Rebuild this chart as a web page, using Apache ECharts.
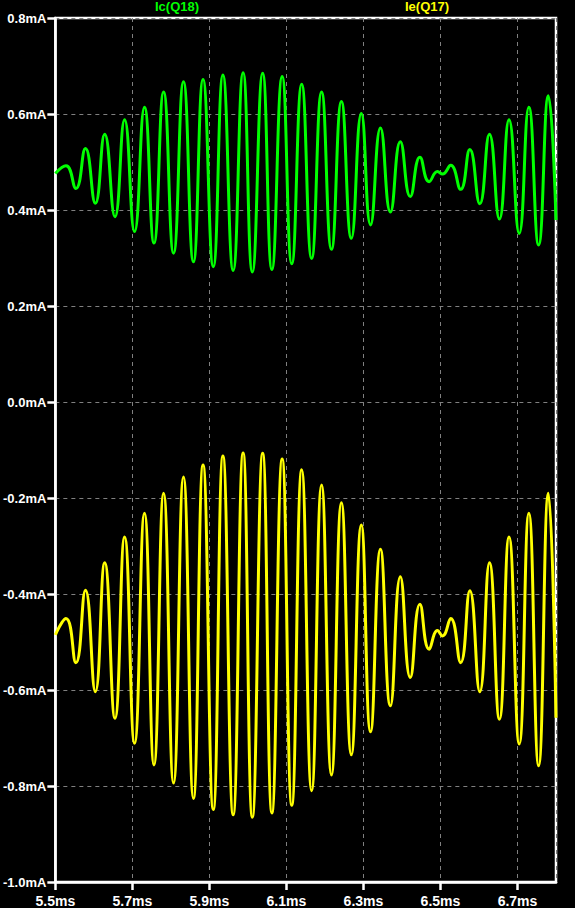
<!DOCTYPE html>
<html>
<head>
<meta charset="utf-8">
<script src="https://cdn.jsdelivr.net/npm/echarts@6/dist/echarts.min.js"></script>
<style>
html,body{margin:0;padding:0;background:#000;}
#c{width:575px;height:908px;}
</style>
</head>
<body>
<div id="c"></div>
<script>
// Time (ms) of each extremum (peaks and troughs alternate)
const timesMs = [5.5, 5.5276, 5.5534, 5.5782, 5.6039, 5.6282, 5.6548, 5.6798, 5.7056, 5.7314,
  5.7561, 5.7811, 5.8069, 5.8327, 5.8585, 5.8835, 5.9101, 5.9351, 5.9617, 5.9875,
  6.0115, 6.0383, 6.0623, 6.0889, 6.1139, 6.1397, 6.1655, 6.1913, 6.2170, 6.2428,
  6.2686, 6.2944, 6.3184, 6.3442, 6.3700, 6.3958, 6.4216, 6.4466, 6.4706, 6.4923,
  6.5052, 6.5266, 6.5524, 6.5763, 6.6021, 6.6272, 6.6530, 6.6780, 6.7045, 6.7295,
  6.7548, 6.7801, 6.8];
// Ic(Q18) in mA
const icQ18 = [0.476, 0.492, 0.445, 0.528, 0.414, 0.558, 0.386, 0.588, 0.355, 0.614,
  0.331, 0.646, 0.310, 0.667, 0.292, 0.672, 0.282, 0.681, 0.274, 0.686,
  0.271, 0.685, 0.276, 0.678, 0.288, 0.662, 0.299, 0.646, 0.318, 0.626,
  0.341, 0.601, 0.369, 0.571, 0.396, 0.542, 0.428, 0.510, 0.459, 0.480,
  0.475, 0.493, 0.443, 0.526, 0.413, 0.558, 0.381, 0.588, 0.351, 0.614,
  0.327, 0.638, 0.379];
// Ie(Q17) in mA
const ieQ17 = [-0.485, -0.451, -0.543, -0.392, -0.6035, -0.335, -0.659, -0.281, -0.711, -0.232,
  -0.756, -0.190, -0.794, -0.156, -0.826, -0.131, -0.849, -0.1125, -0.860, -0.106,
  -0.865, -0.107, -0.856, -0.119, -0.840, -0.141, -0.810, -0.173, -0.777, -0.210,
  -0.735, -0.256, -0.687, -0.307, -0.633, -0.364, -0.574, -0.4215, -0.515, -0.476,
  -0.4875, -0.451, -0.543, -0.393, -0.6035, -0.335, -0.661, -0.281, -0.7125, -0.232,
  -0.758, -0.190, -0.658];
const seriesNames = ['Ic(Q18)', 'Ie(Q17)'];
const xStartMs = 5.5, xEndMs = 6.8, xStepMs = 0.2;
const yMin = -1.0, yMax = 0.8, yStep = 0.2;

const toPairs = (vals) => vals.map((v, i) => [+(timesMs[i] - xStartMs).toFixed(4), v]);

const chart = echarts.init(document.getElementById('c'), null, {renderer: 'svg'});
const font = '"Liberation Sans", Arial, sans-serif';
chart.setOption({
  backgroundColor: '#000',
  animation: false,
  title: [
    {text: seriesNames[0], left: 155, top: 0, padding: 0,
     textStyle: {color: '#00ff00', fontSize: 13, fontWeight: 'bold', fontFamily: font}},
    {text: seriesNames[1], left: 405, top: 0, padding: 0,
     textStyle: {color: '#ffff00', fontSize: 13, fontWeight: 'bold', fontFamily: font}}
  ],
  grid: {left: 52, right: 19, top: 18, bottom: 26, show: true, borderColor: '#fff', borderWidth: 2.5, containLabel: false},
  xAxis: {
    type: 'value', min: 0, max: +(xEndMs - xStartMs).toFixed(4), interval: xStepMs,
    axisLine: {show: true, onZero: false, lineStyle: {color: '#fff', width: 2.5}},
    axisTick: {show: true, length: 8, lineStyle: {color: '#fff', width: 2.5}},
    axisLabel: {color: '#fff', fontSize: 14, fontWeight: 'bold', fontFamily: font, margin: 12, showMaxLabel: false,
      formatter: (v) => (v + xStartMs).toFixed(1) + 'ms'},
    splitLine: {show: true, lineStyle: {color: '#808080', width: 1, type: [4, 4]}}
  },
  yAxis: {
    type: 'value', min: yMin, max: yMax, interval: yStep,
    axisLine: {show: true, onZero: false, lineStyle: {color: '#fff', width: 2.5}},
    axisTick: {show: true, length: 8, lineStyle: {color: '#fff', width: 2.5}},
    axisLabel: {color: '#fff', fontSize: 13, fontWeight: 'bold', fontFamily: font, margin: 9,
      formatter: (v) => (Math.abs(v) < 1e-9 ? 0 : v).toFixed(1) + 'mA'},
    splitLine: {show: true, lineStyle: {color: '#808080', width: 1, type: [4, 4]}}
  },
  series: [
    {name: seriesNames[0], type: 'line', data: toPairs(icQ18), smooth: 0.5, showSymbol: false,
     lineStyle: {color: '#00ff00', width: 3}, itemStyle: {color: '#00ff00'}},
    {name: seriesNames[1], type: 'line', data: toPairs(ieQ17), smooth: 0.5, showSymbol: false,
     lineStyle: {color: '#ffff00', width: 3}, itemStyle: {color: '#ffff00'}}
  ]
});
</script>
</body>
</html>
